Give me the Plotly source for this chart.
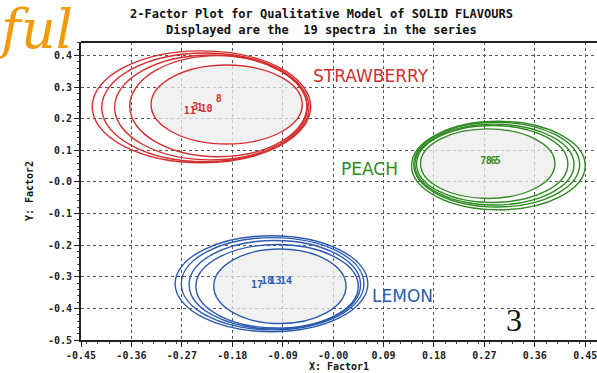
import plotly.graph_objects as go

# ---- data ----
x_ticks = [-0.45, -0.36, -0.27, -0.18, -0.09, 0.0, 0.09, 0.18, 0.27, 0.36, 0.45]
x_tick_labels = ["-0.45", "-0.36", "-0.27", "-0.18", "-0.09", "-0.00", "0.09", "0.18", "0.27", "0.36", "0.45"]
y_ticks = [0.4, 0.3, 0.2, 0.1, 0.0, -0.1, -0.2, -0.3, -0.4, -0.5]
y_tick_labels = ["0.4", "0.3", "0.2", "0.1", "-0.0", "-0.1", "-0.2", "-0.3", "-0.4", "-0.5"]

title_lines = ["2-Factor Plot for Qualitative Model of SOLID FLAVOURS",
               "Displayed are the  19 spectra in the series"]

groups = ["STRAWBERRY", "PEACH", "LEMON"]
group_colors = ["#d42f2f", "#2f8a22", "#2c5bb0"]
group_label_x = [0.068, 0.065, 0.123]
group_label_y = [0.335, 0.04, -0.362]

# ellipse parameters per group: centre x, centre y, semi-axis x, semi-axis y
straw_cx = [-0.235, -0.228, -0.218, -0.205, -0.19]
straw_cy = [0.238, 0.236, 0.236, 0.24, 0.245]
straw_a = [0.195, 0.185, 0.172, 0.158, 0.135]
straw_b = [0.177, 0.172, 0.166, 0.16, 0.125]

peach_cx = [0.295, 0.292, 0.288, 0.284, 0.276]
peach_cy = [0.052, 0.055, 0.055, 0.057, 0.058]
peach_a = [0.155, 0.148, 0.142, 0.135, 0.12]
peach_b = [0.14, 0.134, 0.128, 0.122, 0.11]

lemon_cx = [-0.11, -0.108, -0.104, -0.1, -0.095]
lemon_cy = [-0.322, -0.322, -0.325, -0.33, -0.33]
lemon_a = [0.172, 0.163, 0.153, 0.145, 0.118]
lemon_b = [0.152, 0.146, 0.14, 0.132, 0.118]

straw_pts_x = [-0.256, -0.246, -0.238, -0.226, -0.204]
straw_pts_y = [0.224, 0.236, 0.231, 0.228, 0.262]
straw_pts_lbl = ["11", "3", "1", "10", "8"]

peach_pts_x = [0.268, 0.278, 0.286, 0.294]
peach_pts_y = [0.064, 0.064, 0.066, 0.064]
peach_pts_lbl = ["7", "8", "6", "5"]

lemon_pts_x = [-0.136, -0.118, -0.103, -0.084]
lemon_pts_y = [-0.326, -0.314, -0.316, -0.316]
lemon_pts_lbl = ["17", "18", "13", "14"]

fig = go.Figure()

shapes = []
ell_sets = [
    (straw_cx, straw_cy, straw_a, straw_b, group_colors[0]),
    (peach_cx, peach_cy, peach_a, peach_b, group_colors[1]),
    (lemon_cx, lemon_cy, lemon_a, lemon_b, group_colors[2]),
]
for cxs, cys, aas, bbs, col in ell_sets:
    n = len(cxs)
    for i in range(n):
        inner = i == n - 1
        shapes.append(dict(
            type="circle", xref="x", yref="y", layer="between",
            x0=cxs[i] - aas[i], x1=cxs[i] + aas[i],
            y0=cys[i] - bbs[i], y1=cys[i] + bbs[i],
            line=dict(color=col, width=1.4),
            fillcolor="rgba(236,236,236,0.75)" if inner else "rgba(0,0,0,0)",
        ))

pt_sets = [
    (straw_pts_x, straw_pts_y, straw_pts_lbl, group_colors[0]),
    (peach_pts_x, peach_pts_y, peach_pts_lbl, group_colors[1]),
    (lemon_pts_x, lemon_pts_y, lemon_pts_lbl, group_colors[2]),
]
for xs, ys, lbls, col in pt_sets:
    fig.add_trace(go.Scatter(
        x=xs, y=ys, mode="text", text=lbls,
        textfont=dict(family="DejaVu Sans Mono", size=10, color=col, weight="bold"),
        showlegend=False, hoverinfo="skip", cliponaxis=False,
    ))

for g, col, lx, ly in zip(groups, group_colors, group_label_x, group_label_y):
    fig.add_annotation(x=lx, y=ly, xref="x", yref="y", text=g, showarrow=False,
                       font=dict(family="DejaVu Sans", size=17, color=col))

# title lines
for i, line in enumerate(title_lines):
    fig.add_annotation(x=0.5, y=1, xref="paper", yref="paper", xanchor="center", yanchor="middle",
                       xshift=-18, yshift=28 - 16 * i, text=line, showarrow=False,
                       font=dict(family="DejaVu Sans Mono", size=12, color="#111111", weight="bold"))

# page artefacts
fig.add_annotation(x=0, y=1, xref="paper", yref="paper", xanchor="left", yanchor="top",
                   text="<i>ful</i>", showarrow=False, xshift=-86, yshift=46,
                   font=dict(family="DejaVu Serif", size=54, color="#f29a0c"))
fig.add_annotation(x=0.322, y=-0.5, xref="x", yref="y", text="3", showarrow=False,
                   yanchor="bottom", yshift=0,
                   font=dict(family="Liberation Serif", size=32, color="#111111"))

fig.update_layout(
    width=597, height=373,
    margin=dict(l=81, r=0, t=42, b=33),
    paper_bgcolor="white", plot_bgcolor="white",
    shapes=shapes,
)
fig.update_xaxes(
    range=[-0.45, 0.471], tickvals=x_ticks, ticktext=x_tick_labels,
    showgrid=True, gridcolor="#555555", griddash="dot", gridwidth=1,
    showline=True, linecolor="#222222", linewidth=2, mirror=False,
    ticks="outside", ticklen=5, tickcolor="#222222",
    minor=dict(ticks="outside", ticklen=2, tickcolor="#444444", nticks=10, showgrid=False),
    tickfont=dict(family="DejaVu Sans Mono", size=10, color="#222222", weight="bold"),
    ticklabeloverflow="allow",
    zeroline=False,
    title=dict(text="X: Factor1", standoff=2,
               font=dict(family="DejaVu Sans Mono", size=10, color="#111111", weight="bold")),
)
fig.update_yaxes(
    range=[-0.5, 0.443], tickvals=y_ticks, ticktext=y_tick_labels,
    showgrid=True, gridcolor="#555555", griddash="dot", gridwidth=1,
    showline=True, linecolor="#222222", linewidth=2,
    ticks="outside", ticklen=5, tickcolor="#222222",
    minor=dict(ticks="outside", ticklen=2, tickcolor="#444444", nticks=10, showgrid=False),
    tickfont=dict(family="DejaVu Sans Mono", size=10, color="#222222", weight="bold"),
    ticklabeloverflow="allow",
    zeroline=False,
    title=dict(text="Y: Factor2", standoff=12,
               font=dict(family="DejaVu Sans Mono", size=10, color="#111111", weight="bold")),
)
# top border line
fig.add_shape(type="line", xref="paper", yref="paper", x0=0, x1=1, y0=1, y1=1,
              line=dict(color="#222222", width=2))

fig.write_html("out.html")
